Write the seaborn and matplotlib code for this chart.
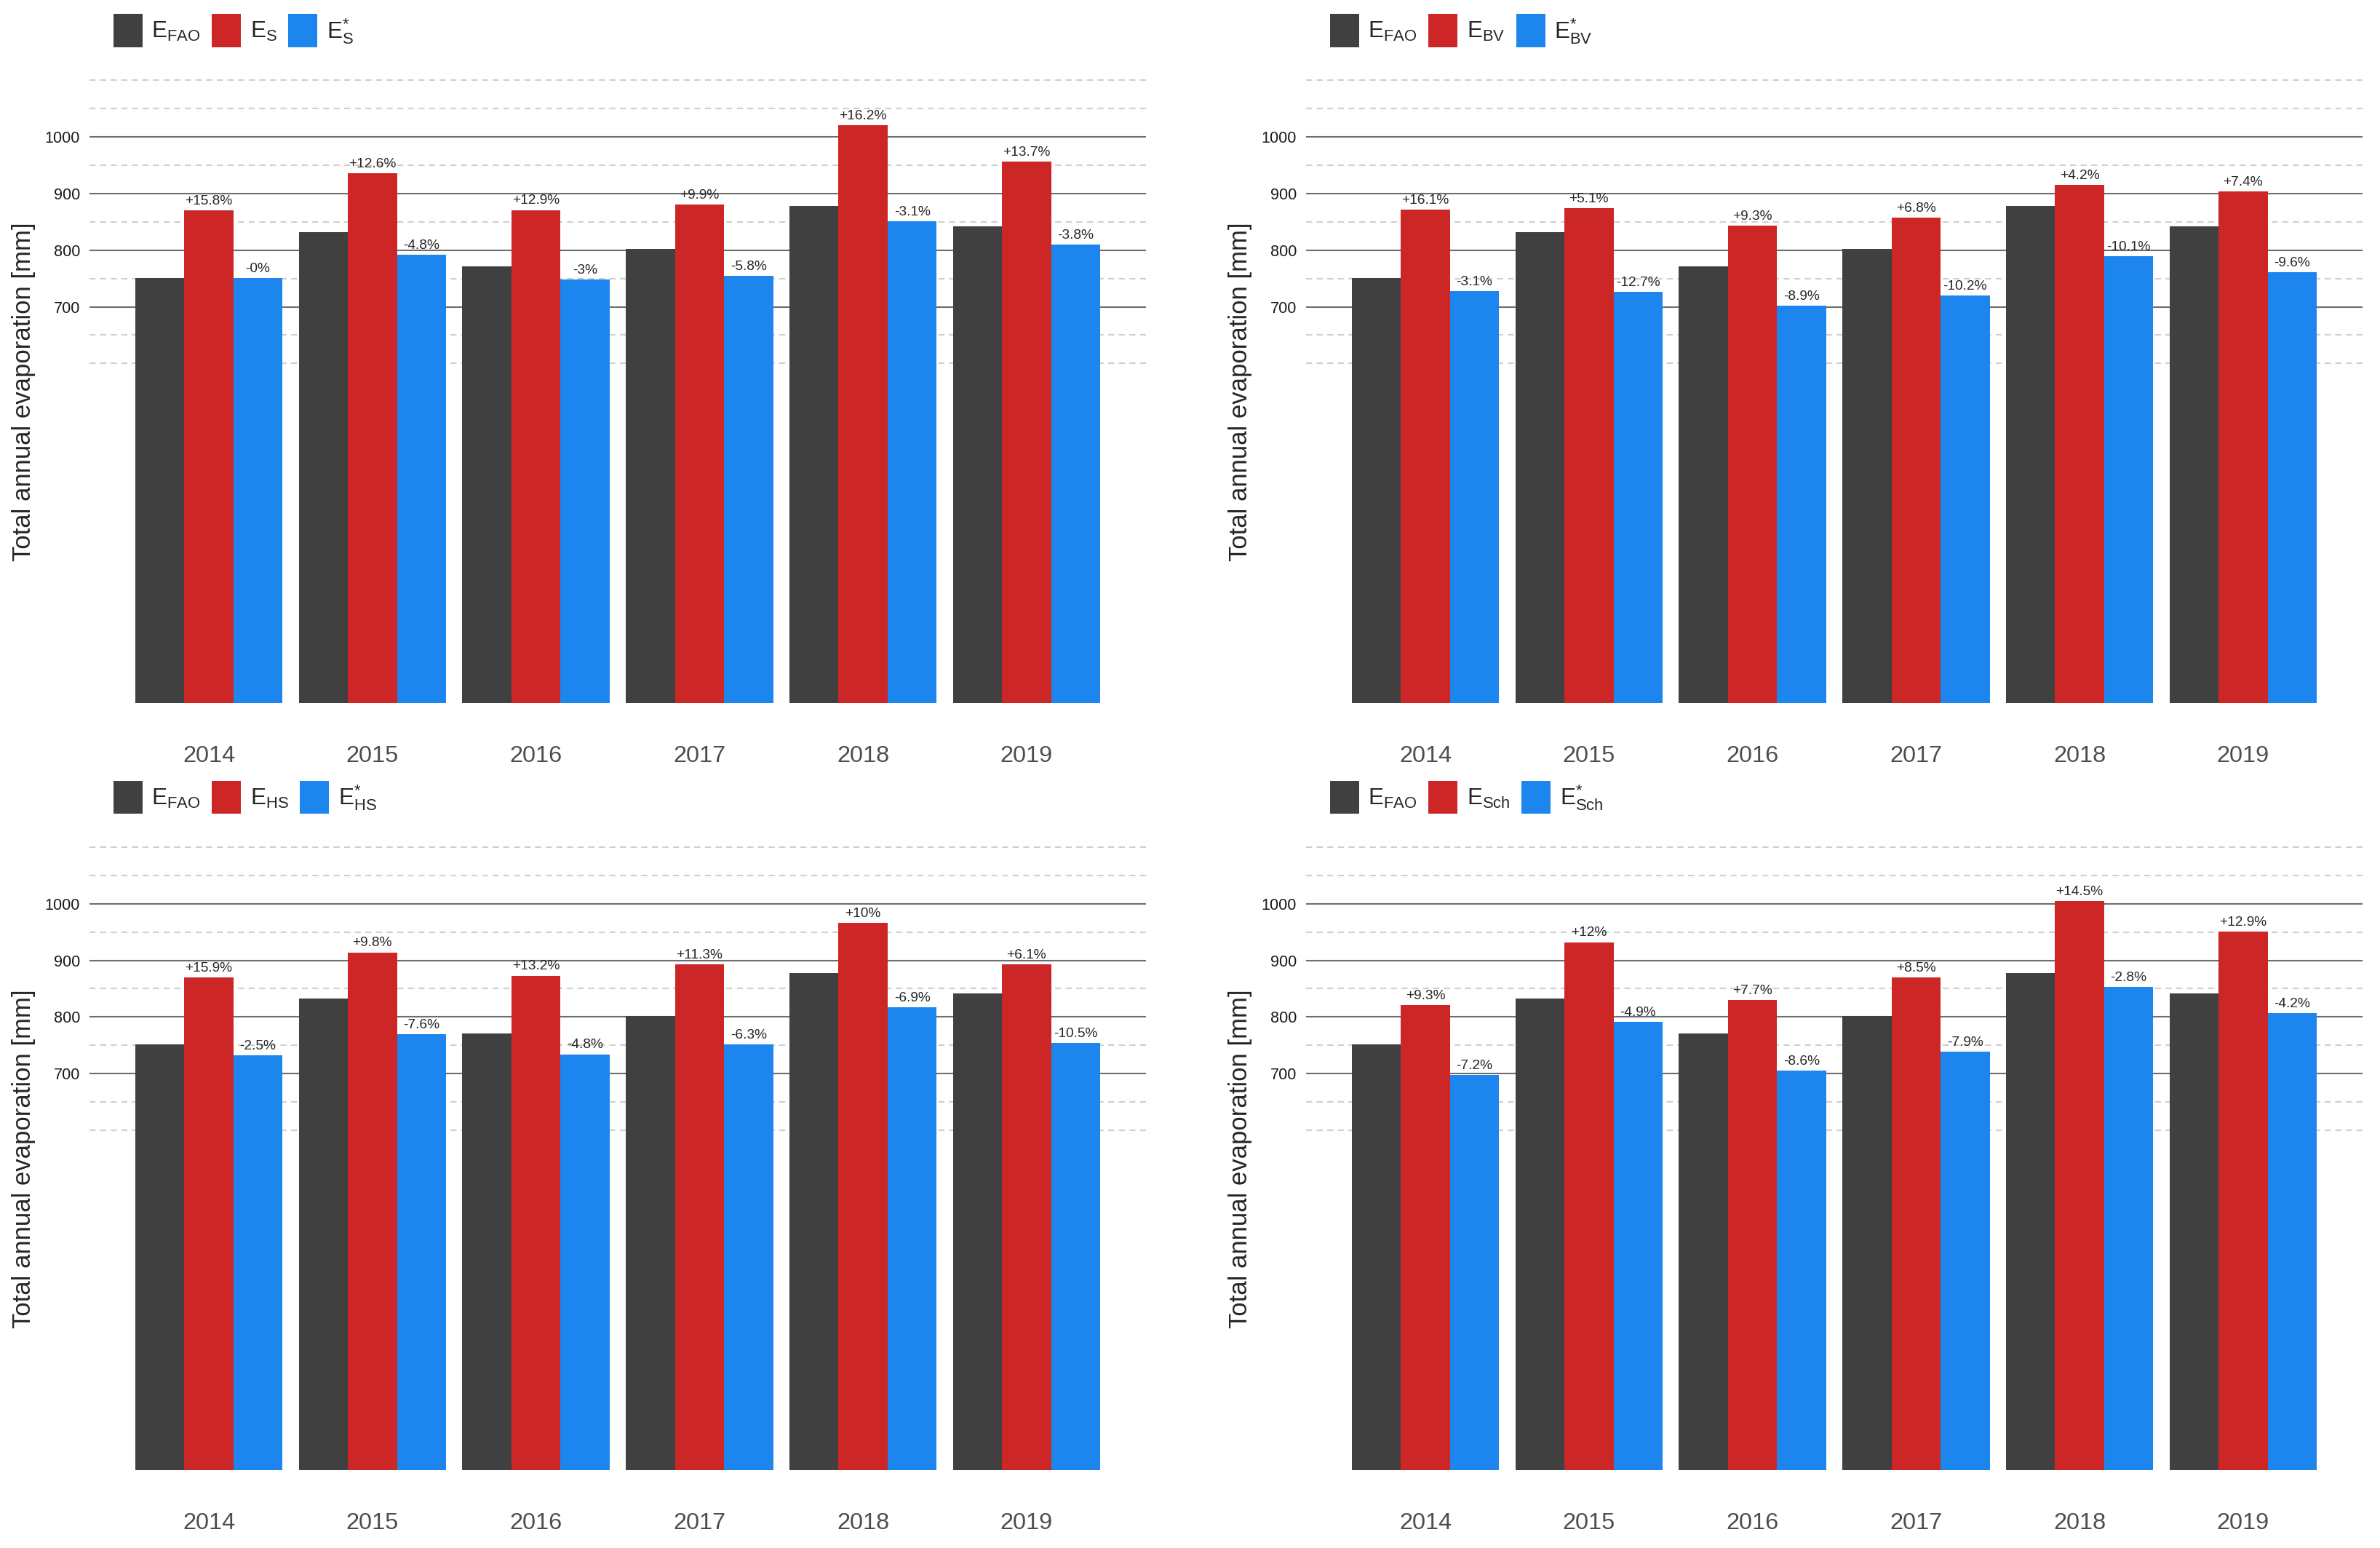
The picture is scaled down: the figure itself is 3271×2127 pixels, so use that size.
import matplotlib
matplotlib.use('Agg')
import matplotlib.pyplot as plt
import seaborn as sns
import pandas as pd

years = ['2014', '2015', '2016', '2017', '2018', '2019']
e_fao = [751, 832, 771, 802, 878, 842]

# Schendel
e_s = [870, 936, 871, 881, 1021, 957]
e_s_star = [751, 792, 748, 755, 851, 810]
lab_s = ['+15.8%', '+12.6%', '+12.9%', '+9.9%', '+16.2%', '+13.7%']
lab_s_star = ['-0%', '-4.8%', '-3%', '-5.8%', '-3.1%', '-3.8%']

# BV
e_bv = [872, 874, 843, 857, 915, 904]
e_bv_star = [728, 726, 702, 720, 789, 761]
lab_bv = ['+16.1%', '+5.1%', '+9.3%', '+6.8%', '+4.2%', '+7.4%']
lab_bv_star = ['-3.1%', '-12.7%', '-8.9%', '-10.2%', '-10.1%', '-9.6%']

# HS
e_hs = [870, 914, 873, 893, 966, 893]
e_hs_star = [732, 769, 734, 751, 817, 754]
lab_hs = ['+15.9%', '+9.8%', '+13.2%', '+11.3%', '+10%', '+6.1%']
lab_hs_star = ['-2.5%', '-7.6%', '-4.8%', '-6.3%', '-6.9%', '-10.5%']

# Sch
e_sch = [821, 932, 830, 870, 1005, 951]
e_sch_star = [697, 791, 705, 739, 853, 807]
lab_sch = ['+9.3%', '+12%', '+7.7%', '+8.5%', '+14.5%', '+12.9%']
lab_sch_star = ['-7.2%', '-4.9%', '-8.6%', '-7.9%', '-2.8%', '-4.2%']

panels = [
    ('S', e_s, e_s_star, lab_s, lab_s_star),
    ('BV', e_bv, e_bv_star, lab_bv, lab_bv_star),
    ('HS', e_hs, e_hs_star, lab_hs, lab_hs_star),
    ('Sch', e_sch, e_sch_star, lab_sch, lab_sch_star),
]

colors = ['#404040', '#cd2626', '#1c86ee']

sns.set_style('white')
plt.rcParams['font.family'] = ['Liberation Sans', 'DejaVu Sans']
plt.rcParams['mathtext.fontset'] = 'custom'
plt.rcParams['mathtext.rm'] = 'Liberation Sans'
plt.rcParams['mathtext.it'] = 'Liberation Sans:italic'
plt.rcParams['mathtext.bf'] = 'Liberation Sans:bold'

W, H = 3271, 2127
fig = plt.figure(figsize=(W / 200, H / 200), dpi=200)
pw, ph = 1452, 933.3
positions = [(123, 71.6), (1795, 71.6), (123, 1125.1), (1795, 1125.1)]

for (name, est, est_star, lab, lab_star), (px, py) in zip(panels, positions):
    ax = fig.add_axes([px / W, 1 - (py + ph) / H, pw / W, ph / H])
    df = pd.DataFrame({
        'year': years * 3,
        'value': e_fao + est + est_star,
        'method': ['FAO'] * 6 + [name] * 6 + [name + '*'] * 6,
    })
    sns.barplot(data=df, x='year', y='value', hue='method',
                hue_order=['FAO', name, name + '*'], palette=colors,
                width=0.9, errorbar=None, saturation=1, linewidth=0, ax=ax)

    ax.bar_label(ax.containers[1], labels=lab, padding=1.5, fontsize=6.9)
    ax.bar_label(ax.containers[2], labels=lab_star, padding=1.5, fontsize=6.9)

    ax.set_ylim(-50, 1150)
    ax.set_xlim(-0.73, 5.73)
    ax.set_yticks([700, 800, 900, 1000])
    ax.set_yticks([600, 650, 750, 850, 950, 1050, 1100], minor=True)
    ax.set_axisbelow(True)
    ax.grid(axis='y', which='major', color='#6e6e6e', linewidth=0.75)
    ax.grid(axis='y', which='minor', color='#cfcfcf', linewidth=0.75,
            linestyle=(0, (4, 3)))
    ax.grid(axis='x', visible=False)
    sns.despine(ax=ax, left=True, bottom=True)

    ax.tick_params(axis='x', length=3.6, width=1.0, color='#cccccc',
                   labelsize=11.7, labelcolor='#4d4d4d', pad=3.4)
    ax.tick_params(axis='y', which='both', length=0, labelsize=7.8,
                   labelcolor='#1a1a1a', pad=4.7)
    ax.set_xlabel('')
    ax.set_ylabel('Total annual evaporation [mm]', fontsize=12.5)
    ax.yaxis.set_label_coords(-0.051, 0.5)

    handles = ax.get_legend().legend_handles
    labels = [r'$\mathrm{E_{FAO}}$', r'$\mathrm{E_{%s}}$' % name,
              r'$\mathrm{E^{*}_{%s}}$' % name]
    ax.legend(handles=handles, labels=labels, loc='center left',
              bbox_to_anchor=(0.0227, 1.0317), ncol=3, frameon=False,
              fontsize=11.3, handlelength=1.27, handleheight=1.85,
              handletextpad=0.4, columnspacing=0.5, borderpad=0,
              borderaxespad=0)

fig.savefig('out.png', dpi=200)
